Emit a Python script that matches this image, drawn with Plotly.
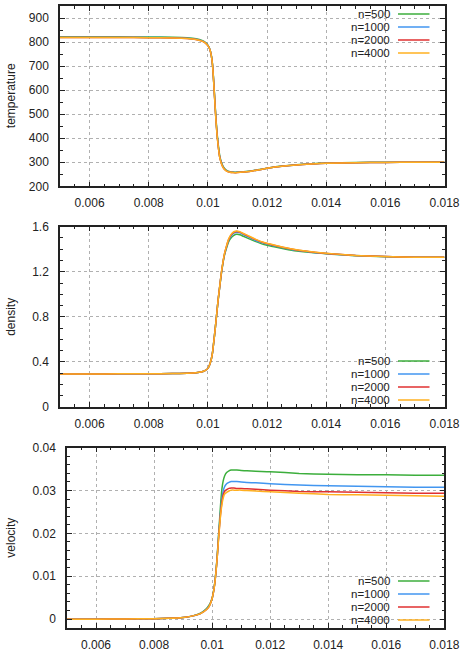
import plotly.graph_objects as go

W, H = 469, 659

labels = ["n=500", "n=1000", "n=2000", "n=4000"]
colors = ["#3cae3c", "#4296f0", "#e03030", "#ffb020"]

x_ticks = [0.006, 0.008, 0.01, 0.012, 0.014, 0.016, 0.018]
x_ticktext = ["0.006", "0.008", "0.01", "0.012", "0.014", "0.016", "0.018"]
temp_ticks = [200, 300, 400, 500, 600, 700, 800, 900]
temp_ticktext = ["200", "300", "400", "500", "600", "700", "800", "900"]
dens_ticks = [0, 0.4, 0.8, 1.2, 1.6]
dens_ticktext = ["0", "0.4", "0.8", "1.2", "1.6"]
vel_ticks = [0, 0.01, 0.02, 0.03, 0.04]
vel_ticktext = ["0", "0.01", "0.02", "0.03", "0.04"]

# ---------------- temperature ----------------
temp_x = [0.005, 0.006, 0.007, 0.008, 0.0088, 0.0093, 0.0096, 0.0098, 0.0099, 0.01,
          0.01007, 0.01012, 0.01016, 0.0102, 0.01024, 0.01028, 0.01032, 0.01036, 0.0104,
          0.01046, 0.01052, 0.01058, 0.01065, 0.01075, 0.01085, 0.011, 0.0112, 0.0115,
          0.0118, 0.0121, 0.0125, 0.013, 0.0135, 0.014, 0.015, 0.016, 0.017, 0.018]
temp_500 = [822, 822, 822, 821, 820, 818, 814, 807, 800, 787,
            769, 742, 703, 630, 548, 470, 410, 364, 328,
            299, 282, 272, 265, 261, 259, 259, 261, 265,
            271, 277, 284, 290, 294, 297, 299, 300, 300, 301]
temp_1000 = [820, 820, 820, 819, 818, 816, 812, 805, 799, 786,
             768, 741, 701, 627, 544, 465, 405, 359, 323,
             296, 279, 270, 263, 259, 258, 258, 260, 264,
             270, 277, 283, 289, 293, 296, 298, 299, 300, 300]
temp_2000 = [819, 819, 819, 818, 817, 815, 811, 804, 798, 785,
             768, 740, 700, 626, 541, 462, 402, 356, 321,
             294, 278, 269, 262, 258, 257, 257, 259, 264,
             270, 277, 283, 289, 293, 296, 298, 299, 300, 300]
temp_4000 = [819, 819, 819, 818, 817, 815, 811, 804, 798, 785,
             768, 740, 700, 625, 540, 460, 400, 355, 320,
             293, 277, 268, 262, 258, 257, 257, 259, 264,
             270, 277, 283, 289, 293, 296, 298, 299, 300, 300]

# ---------------- density ----------------
dens_x = [0.005, 0.006, 0.007, 0.008, 0.0088, 0.0093, 0.0096, 0.0098, 0.0099, 0.01,
          0.01006, 0.01012, 0.01016, 0.0102, 0.01025, 0.0103, 0.01035, 0.0104, 0.01045,
          0.0105, 0.01056, 0.01063, 0.0107, 0.01078, 0.01088, 0.01097, 0.01108, 0.0112,
          0.0114, 0.0116, 0.0119, 0.0122, 0.0126, 0.013, 0.0135, 0.014, 0.015, 0.016,
          0.017, 0.018]
dens_500 = [0.293, 0.293, 0.294, 0.295, 0.297, 0.299, 0.303, 0.312, 0.322, 0.343,
            0.375, 0.43, 0.49, 0.58, 0.70, 0.83, 0.955, 1.065, 1.17,
            1.26, 1.345, 1.41, 1.465, 1.50, 1.523, 1.532, 1.528, 1.515,
            1.492, 1.47, 1.442, 1.424, 1.403, 1.385, 1.37, 1.36, 1.343, 1.334,
            1.33, 1.328]
dens_1000 = [0.293, 0.293, 0.294, 0.295, 0.297, 0.299, 0.303, 0.312, 0.322, 0.343,
             0.375, 0.43, 0.49, 0.58, 0.70, 0.83, 0.958, 1.068, 1.175,
             1.265, 1.352, 1.42, 1.478, 1.515, 1.542, 1.55, 1.545, 1.53,
             1.505, 1.48, 1.452, 1.432, 1.41, 1.39, 1.374, 1.362, 1.344, 1.335,
             1.33, 1.328]
dens_2000 = [0.293, 0.293, 0.294, 0.295, 0.297, 0.299, 0.303, 0.312, 0.322, 0.343,
             0.375, 0.43, 0.49, 0.58, 0.70, 0.83, 0.96, 1.07, 1.178,
             1.268, 1.357, 1.426, 1.485, 1.525, 1.55, 1.558, 1.552, 1.537,
             1.512, 1.487, 1.457, 1.437, 1.413, 1.393, 1.376, 1.363, 1.345, 1.335,
             1.33, 1.328]
dens_4000 = [0.293, 0.293, 0.294, 0.295, 0.297, 0.299, 0.303, 0.312, 0.322, 0.343,
             0.375, 0.43, 0.49, 0.58, 0.70, 0.83, 0.96, 1.07, 1.18,
             1.27, 1.36, 1.43, 1.49, 1.53, 1.555, 1.562, 1.555, 1.54,
             1.515, 1.49, 1.46, 1.44, 1.415, 1.395, 1.377, 1.364, 1.345, 1.335,
             1.33, 1.328]

# ---------------- velocity ----------------
vel_x = [0.005, 0.006, 0.007, 0.008, 0.0085, 0.009, 0.0093, 0.0096, 0.0098, 0.0099,
         0.01, 0.01006, 0.0101, 0.01014, 0.01018, 0.01022, 0.01026, 0.0103, 0.01034,
         0.01038, 0.01043, 0.0105, 0.01058, 0.01066, 0.01075, 0.01085, 0.011, 0.0112,
         0.0115, 0.012, 0.013, 0.014, 0.015, 0.016, 0.017, 0.018]
vel_500 = [0.0, 0.0, 0.00005, 0.0001, 0.0002, 0.0004, 0.0007, 0.0014, 0.0024, 0.0033,
           0.0049, 0.007, 0.009, 0.0118, 0.0153, 0.0195, 0.0235, 0.0275, 0.0305,
           0.0322, 0.0334, 0.0342, 0.0346, 0.0348, 0.0348, 0.0348, 0.0347, 0.0346,
           0.0345, 0.0344, 0.034, 0.0338, 0.0337, 0.0337, 0.0336, 0.0336]
vel_1000 = [0.0, 0.0, 0.00005, 0.0001, 0.0002, 0.0004, 0.0007, 0.0013, 0.0023, 0.0031,
            0.0048, 0.0069, 0.0089, 0.0116, 0.015, 0.019, 0.0226, 0.0258, 0.0282,
            0.0298, 0.0309, 0.0316, 0.0319, 0.0321, 0.0321, 0.0321, 0.032, 0.0319,
            0.0318, 0.0316, 0.0313, 0.0311, 0.031, 0.0309, 0.0308, 0.0308]
vel_2000 = [0.0, 0.0, 0.00005, 0.0001, 0.0002, 0.0004, 0.0007, 0.0013, 0.0022, 0.003,
            0.0048, 0.0068, 0.0088, 0.0115, 0.0148, 0.0187, 0.0221, 0.0252, 0.0274,
            0.0289, 0.0298, 0.0302, 0.0305, 0.0306, 0.0306, 0.0305, 0.0305, 0.0304,
            0.0303, 0.0301, 0.0298, 0.0297, 0.0296, 0.0295, 0.0294, 0.0294]
vel_4000 = [0.0, 0.0, 0.00005, 0.0001, 0.0002, 0.0004, 0.0007, 0.0013, 0.0022, 0.003,
            0.0048, 0.0068, 0.0088, 0.0115, 0.0148, 0.0185, 0.0218, 0.0248, 0.0268,
            0.0282, 0.0292, 0.0296, 0.0299, 0.0301, 0.0301, 0.0301, 0.0301, 0.03,
            0.0299, 0.0297, 0.0294, 0.0291, 0.029, 0.0289, 0.0288, 0.0287]

panels = [
    ("temperature", temp_x, [temp_500, temp_1000, temp_2000, temp_4000], "x", "y"),
    ("density", dens_x, [dens_500, dens_1000, dens_2000, dens_4000], "x2", "y2"),
    ("velocity", vel_x, [vel_500, vel_1000, vel_2000, vel_4000], "x3", "y3"),
]

fig = go.Figure()
for name, xs, series, xa, ya in panels:
    for lab, col, ys in zip(labels, colors, series):
        fig.add_trace(go.Scatter(
            x=xs, y=ys, mode="lines", name=lab, xaxis=xa, yaxis=ya,
            line=dict(color=col, width=1.5, shape="spline", smoothing=0.6),
            showlegend=False, hoverinfo="skip"))

FONT = "Liberation Sans, Arial, sans-serif"
TXT = "#222222"

def px2x(p):
    return p / W

def py2y(p):
    return 1 - p / H

common = dict(
    showline=True, linecolor="#222222", linewidth=1.5, mirror="ticks",
    ticks="inside", ticklen=5, tickwidth=1, tickcolor="#222222",
    showgrid=True, gridcolor="#b0b0b0", griddash="dot", gridwidth=1,
    zeroline=False, automargin=False,
    tickfont=dict(family=FONT, size=12, color=TXT),
    minor=dict(ticks="inside", ticklen=3, tickcolor="#222222", showgrid=False),
)

# panel geometry in pixels: (left, right, top, bottom)
geo = [(60, 444.5, 6, 186.3), (60, 444.5, 226.7, 407), (67, 444.3, 447.7, 627.7)]

xrange_ = [0.005, 0.018]
yranges = [[200, 950], [0, 1.6], [-0.002, 0.04]]
yticks = [(temp_ticks, temp_ticktext, 50), (dens_ticks, dens_ticktext, 0.1),
          (vel_ticks, vel_ticktext, 0.002)]

layout = dict(
    width=W, height=H, margin=dict(l=0, r=0, t=0, b=0),
    paper_bgcolor="white", plot_bgcolor="white", template="none",
    font=dict(family=FONT, size=12, color=TXT), showlegend=False,
)
for i, (l, r, t, b) in enumerate(geo):
    sfx = "" if i == 0 else str(i + 1)
    xa = dict(common)
    xa.update(domain=[px2x(l), px2x(r)], range=xrange_, anchor="y" + sfx,
              tickmode="array", tickvals=x_ticks, ticktext=x_ticktext,
              ticklabelstandoff=5)
    xa["minor"] = dict(common["minor"], dtick=0.0005, tick0=0.005)
    ya = dict(common)
    tv, tt, mdt = yticks[i]
    ya.update(domain=[py2y(b), py2y(t)], range=yranges[i], anchor="x" + sfx,
              tickmode="array", tickvals=tv, ticktext=tt, ticklabelstandoff=7)
    ya["minor"] = dict(common["minor"], dtick=mdt, tick0=0)
    layout["xaxis" + sfx] = xa
    layout["yaxis" + sfx] = ya

fig.update_layout(**layout)

# y-axis titles
for i, (name, *_r) in enumerate(panels):
    l, r, t, b = geo[i]
    fig.add_annotation(text=name, x=px2x(11), y=py2y((t + b) / 2), xref="paper", yref="paper",
                       textangle=-90, showarrow=False, xanchor="center", yanchor="middle",
                       font=dict(family=FONT, size=12, color=TXT))

# gnuplot-style keys (text right, line sample to the right)
key_rows = [[14, 27, 40, 53], [361, 374, 387, 400], [581, 594, 607, 620]]
for rows in key_rows:
    for lab, col, yy in zip(labels, colors, rows):
        fig.add_annotation(text=lab, x=px2x(390.5), y=py2y(yy), xref="paper", yref="paper",
                           showarrow=False, xanchor="right", yanchor="middle",
                           borderpad=0,
                           font=dict(family=FONT, size=11.5, color=TXT))
        fig.add_shape(type="line", xref="paper", yref="paper",
                      x0=px2x(398), x1=px2x(429.5), y0=py2y(yy), y1=py2y(yy),
                      line=dict(color=col, width=1.5))

fig.write_html("out.html")
